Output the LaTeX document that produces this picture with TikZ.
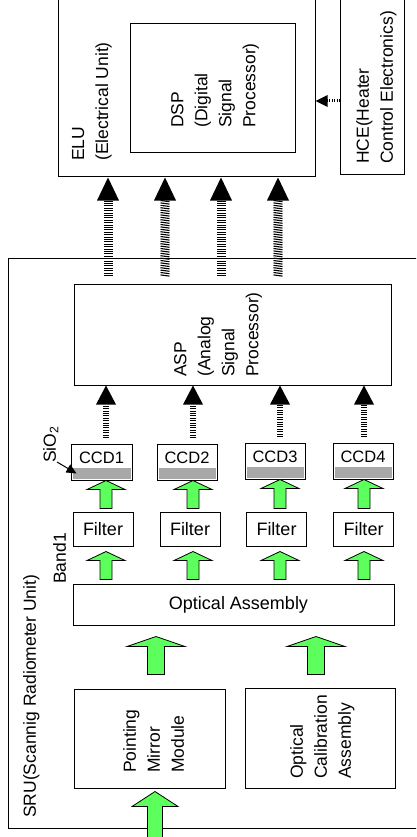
\documentclass[tikz,border=0pt]{standalone}
\usepackage{fontspec}
\setmainfont{Liberation Sans}
\usetikzlibrary{arrows.meta,calc,decorations.markings}
\definecolor{agreen}{RGB}{92,255,92}
\definecolor{ccdgray}{RGB}{168,168,168}
\tikzset{
  box/.style={draw, line width=1pt, inner sep=0pt, fill=white},
  lbl/.style={rotate=90, anchor=north west, inner sep=0pt, align=left,
    font=\fontsize{17.5}{24}\selectfont},
  hlbl/.style={font=\fontsize{18}{22}\selectfont},
  ccdbox/.style={box, minimum width=61pt, minimum height=36pt,
    font=\fontsize{16.5}{20}\selectfont, text height=12pt, text depth=10pt},
  filterbox/.style={box, hlbl, minimum width=60pt, minimum height=34pt},
  garrow/.style={draw=black, line width=0.8pt, fill=agreen, line join=miter},
  hatcharrow/.style n args={4}{postaction={decorate, decoration={markings,
      mark=between positions 0 and -#3 step 2.4pt with
        {\draw[line width=1.1pt] (-#4,-#1) -- (#4,#1);},
      mark=at position -#3 with {\fill (0,-#2) -- (#3,0) -- (0,#2) -- cycle;}}}}
}
\newcommand\greenarrow[5]{\draw[garrow] let \p1=(#1), \p2=(#2) in
  (\x1-#3pt,\y1) -- (\x1-#3pt,\y2-#5pt) -- (\x1-#4pt,\y2-#5pt) -- (\x1,\y2)
  -- (\x1+#4pt,\y2-#5pt) -- (\x1+#3pt,\y2-#5pt) -- (\x1+#3pt,\y1) -- cycle;}
\begin{document}
\begin{tikzpicture}[x=1pt, y=-1pt]
\useasboundingbox (0,0) rectangle (416,837);
\clip (0,0) rectangle (416,837);
\fill[white] (0,0) rectangle (416,837);
% columns
\coordinate (h1) at (108,0); \coordinate (h2) at (165,0);
\coordinate (h3) at (221,0); \coordinate (h4) at (278,0);
\coordinate (k1) at (106,0); \coordinate (k2) at (193,0);
\coordinate (k3) at (280,0); \coordinate (k4) at (364,0);
\coordinate (b1) at (156,0); \coordinate (b2) at (316,0);
\coordinate (hy) at (0,101);
\coordinate (inp) at (155,850);
% boxes
\node[box, minimum width=257pt, minimum height=197pt] (ELU) at (186.5,78.5) {};
\node[box, minimum width=165pt, minimum height=129pt] (DSP) at (212.5,88.5) {};
\node[box, minimum width=64pt, minimum height=195pt] (HCE) at (372,77.5) {};
\node[box, minimum width=432pt, minimum height=570pt] (SRU) at (224,543) {};
\node[box, minimum width=317pt, minimum height=101pt] (ASP) at (232.5,334.5) {};
\node[ccdbox] (CCD1) at (101.5,462) {CCD1};
\node[ccdbox, minimum width=60pt] (CCD2) at (187,462) {CCD2};
\node[ccdbox, minimum width=60pt] (CCD3) at (275,461) {CCD3};
\node[ccdbox, minimum width=60pt] (CCD4) at (363,461) {CCD4};
\foreach \c in {CCD1,CCD2,CCD3,CCD4}
  \fill[ccdgray] ($(\c.south west)+(2,-2)$) rectangle ($(\c.south east)+(-2,-13)$);
\node[filterbox] (F1) at (103,529) {Filter};
\node[filterbox] (F2) at (190,529) {Filter};
\node[filterbox] (F3) at (276.5,529) {Filter};
\node[filterbox] (F4) at (363.5,529) {Filter};
\node[box, hlbl, minimum width=321pt, minimum height=41pt] (OA) at (233.5,604.5) {\hspace*{10pt}Optical Assembly};
\node[box, minimum width=151pt, minimum height=99pt] (PMM) at (149.5,738.5) {};
\node[box, minimum width=150pt, minimum height=100pt] (OCA) at (320,738) {};
% labels
\node[lbl] (ELUt) at (72,161) {ELU\\(Electrical Unit)};
\node[lbl] (DSPt) at (171,128) {DSP\\(Digital\\Signal\\Processor)};
\node[lbl] (HCEt) at (356,164) {HCE(Heater\\Control Electronics)};
\node[lbl] (ASPt) at (174,377) {ASP\\(Analog\\Signal\\Processor)};
\node[lbl] (PMMt) at (123,773) {Pointing\\Mirror\\Module};
\node[lbl] (OCAt) at (290,779) {Optical\\Calibration\\Assembly};
\node[lbl] (SRUt) at (23,818) {SRU(Scannig Radiometer Unit)};
\node[lbl] (Band) at (53,584) {Band1};
\node[lbl] (SiO) at (43,463) {SiO\textsubscript{2}};
% SiO2 pointer
\coordinate (sioA) at (57,462);
\draw[line width=1pt, -{Triangle[length=10pt,width=9pt]}] (sioA) -- ($(CCD1.south west)+(6,-7)$);
% hatched arrows SRU -> ELU
\path[hatcharrow={4.5pt}{11pt}{23pt}{0pt}] ($(ASP.north -| h1)+(0,-8)$) -- (ELU.south -| h1);
\path[hatcharrow={4.5pt}{11pt}{23pt}{0.6pt}] ($(ASP.north -| h2)+(0,-8)$) -- (ELU.south -| h2);
\path[hatcharrow={4.5pt}{11pt}{23pt}{0pt}] ($(ASP.north -| h3)+(0,-8)$) -- (ELU.south -| h3);
\path[hatcharrow={4.5pt}{11pt}{23pt}{0.6pt}] ($(ASP.north -| h4)+(0,-8)$) -- (ELU.south -| h4);
% HCE -> ELU
\path[hatcharrow={1.5pt}{6pt}{12pt}{0pt}] (HCE.west |- hy) -- (ELU.east |- hy);
% CCD -> ASP
\path[hatcharrow={3pt}{10pt}{19pt}{0pt}] ($(CCD1.north -| k1)+(0,-6)$) -- (ASP.south -| k1);
\path[hatcharrow={3pt}{10pt}{19pt}{0pt}] ($(CCD2.north -| k2)+(0,-6)$) -- (ASP.south -| k2);
\path[hatcharrow={3pt}{10pt}{19pt}{0pt}] ($(CCD3.north -| k3)+(0,-6)$) -- (ASP.south -| k3);
\path[hatcharrow={3pt}{10pt}{19pt}{0pt}] ($(CCD4.north -| k4)+(0,-6)$) -- (ASP.south -| k4);
% green arrows Filter -> CCD
\greenarrow{$(F1.north -| k1)+(0,-3)$}{CCD1.south -| k1}{6}{19}{9}
\greenarrow{$(F2.north -| k2)+(0,-3)$}{CCD2.south -| k2}{6}{19}{9}
\greenarrow{$(F3.north -| k3)+(0,-3)$}{CCD3.south -| k3}{6}{19}{9}
\greenarrow{$(F4.north -| k4)+(0,-3)$}{CCD4.south -| k4}{6}{19}{9}
% green arrows OA -> Filter
\greenarrow{$(OA.north -| k1)+(0,-4)$}{$(F1.south -| k1)+(0,5)$}{6}{19}{9}
\greenarrow{$(OA.north -| k2)+(0,-4)$}{$(F2.south -| k2)+(0,5)$}{6}{19}{9}
\greenarrow{$(OA.north -| k3)+(0,-4)$}{$(F3.south -| k3)+(0,5)$}{6}{19}{9}
\greenarrow{$(OA.north -| k4)+(0,-4)$}{$(F4.south -| k4)+(0,5)$}{6}{19}{9}
% big arrows to OA
\greenarrow{$(PMM.north -| b1)+(0,-14)$}{$(OA.south -| b1)+(0,11)$}{8.5}{29}{10}
\greenarrow{$(OCA.north -| b2)+(0,-13)$}{$(OA.south -| b2)+(0,11)$}{8.5}{29}{10}
% input arrow
\greenarrow{inp}{$(PMM.south -| inp)+(0,3)$}{7.5}{23}{15}
\end{tikzpicture}
\end{document}
